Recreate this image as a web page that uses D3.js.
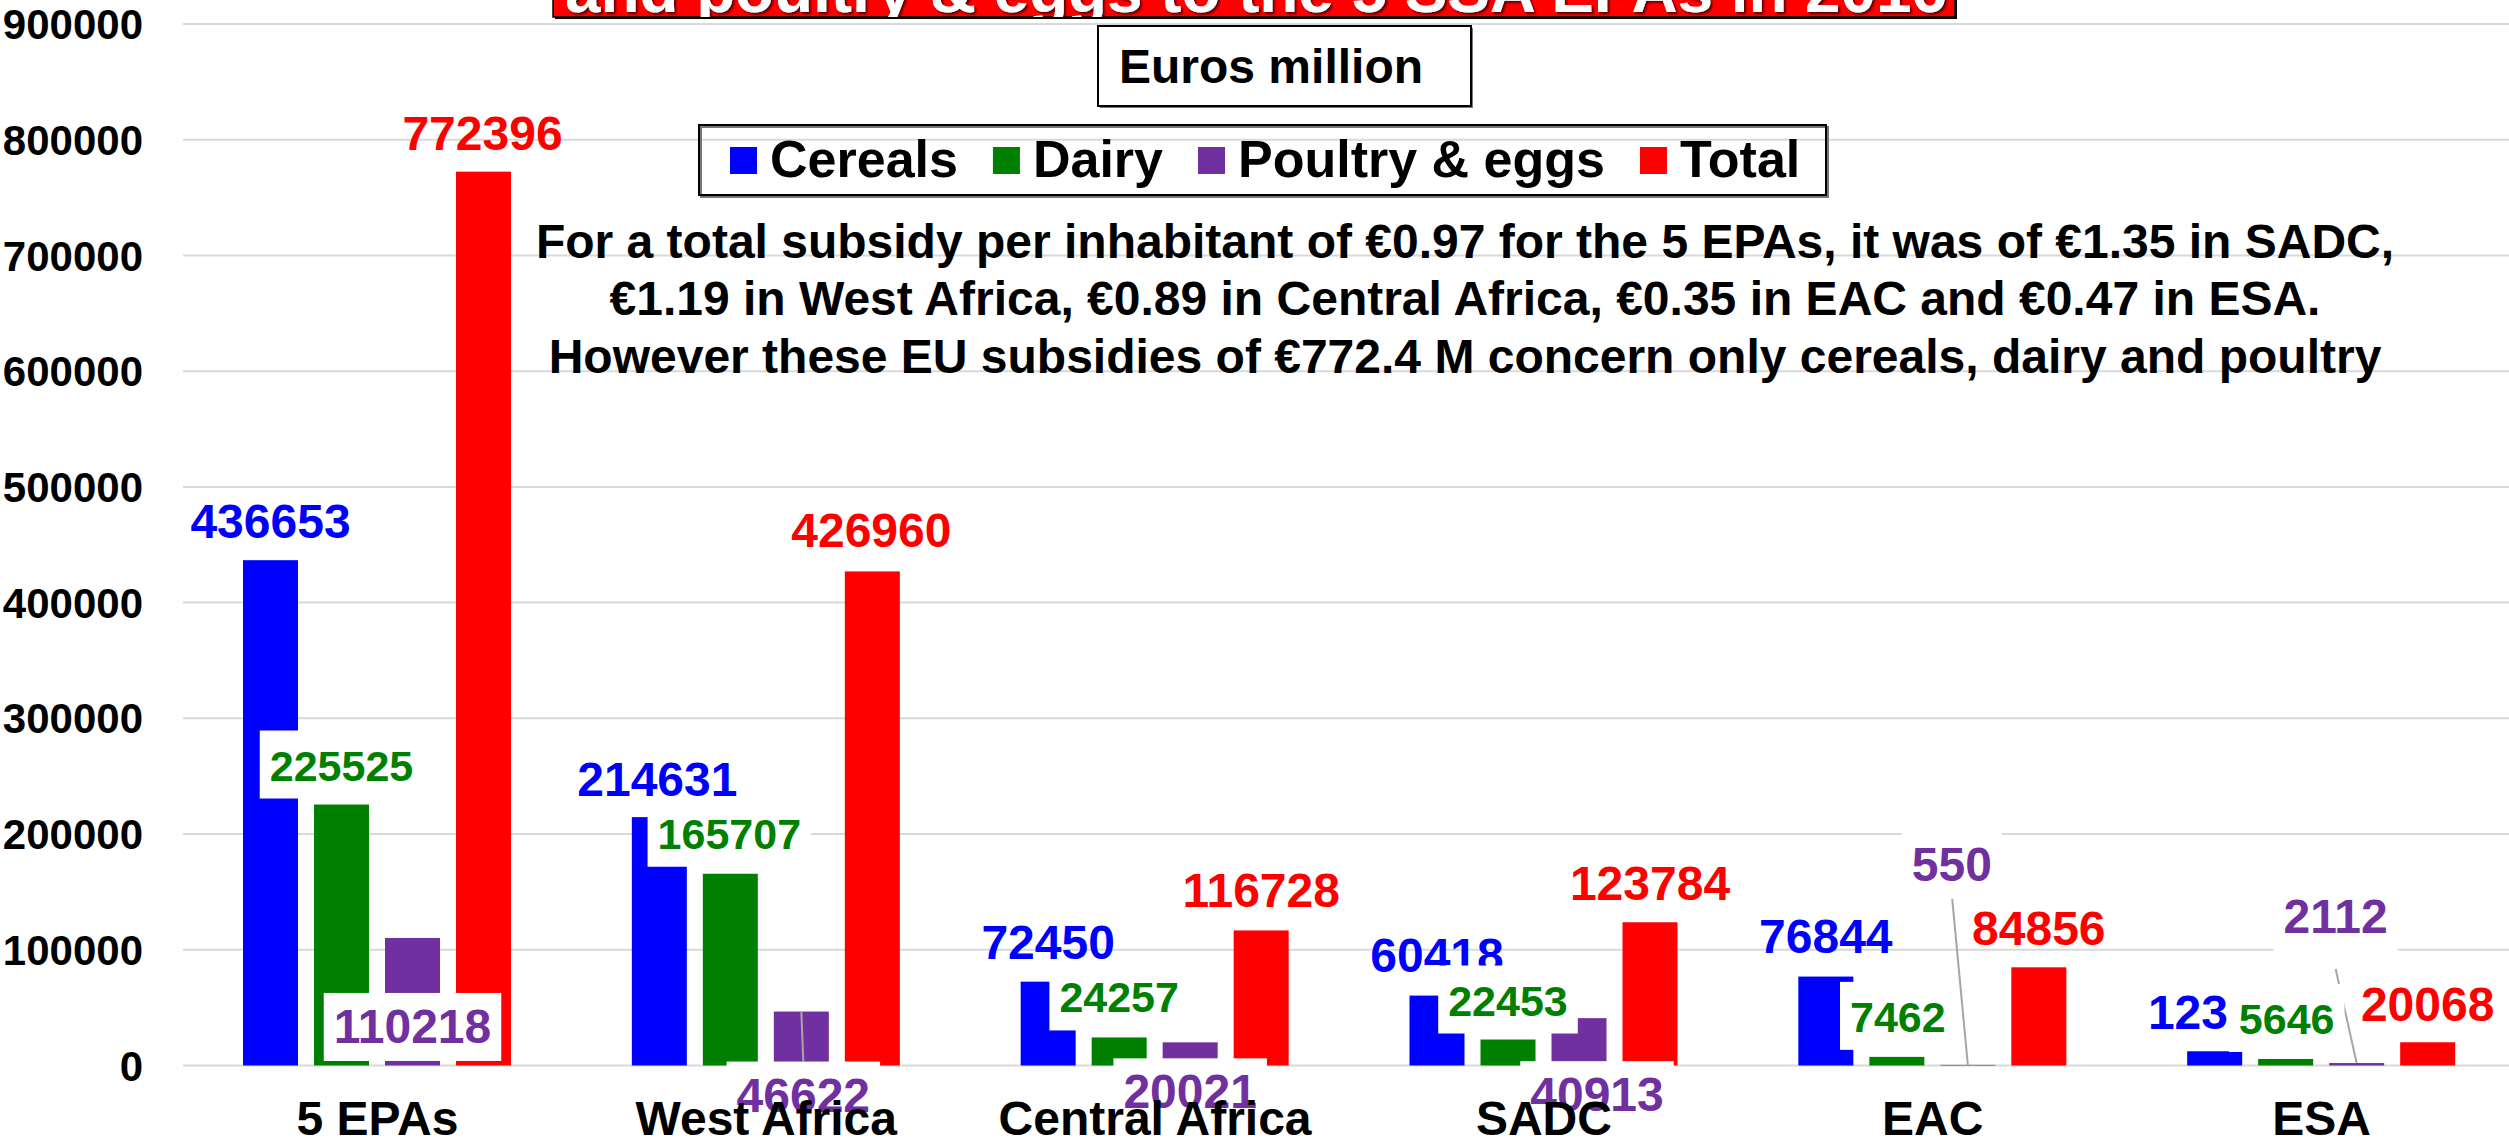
<!DOCTYPE html>
<html>
<head>
<meta charset="utf-8">
<script src="https://cdn.jsdelivr.net/npm/d3@7"></script>
<style>
  body { margin: 0; background: #fff; }
  svg { display: block; }
  text { font-family: "Liberation Sans", Arial, sans-serif; font-weight: bold; }
</style>
</head>
<body>
<svg id="chart"></svg>
<script>
// data (euros, thousands shown as "Euros million" in the source)
const categories = ["5 EPAs", "West Africa", "Central Africa", "SADC", "EAC", "ESA"];
const seriesNames = ["Cereals", "Dairy", "Poultry & eggs", "Total"];
const cereals = [436653, 214631, 72450, 60418, 76844, 12310];
const dairy   = [225525, 165707, 24257, 22453, 7462, 5646];
const poultry = [110218, 46622, 20021, 40913, 550, 2112];
const total   = [772396, 426960, 116728, 123784, 84856, 20068];
const yTicks  = [0, 100000, 200000, 300000, 400000, 500000, 600000, 700000, 800000, 900000];

const titleText = "and poultry & eggs to the 5 SSA EPAs in 2016";
const unitText = "Euros million";
const noteLines = [
    "For a total subsidy per inhabitant of €0.97 for the 5 EPAs, it was of €1.35 in SADC,",
    "€1.19 in West Africa, €0.89 in Central Africa, €0.35 in EAC and €0.47 in ESA.",
    "However these EU subsidies of €772.4 M concern only cereals, dairy and poultry"
];

const colors = ["#0000ff", "#008000", "#7030a0", "#ff0000"];
const seriesValues = [cereals, dairy, poultry, total];

// label placement, moved by hand in the original: [dx, dy] from the top centre of the bar to the label baseline
const labelShift = [
    [[0, -22], [-2, -21], [0, -23], [0, -24], [0, -24], [0, -22]],
    [[0, -24], [-1, -25], [0, -25], [0, -24], [1, -25], [1, -25]],
    [[0, 105], [2, 100], [0, 66], [18, 93], [-16, -184], [-21, -130]],
    [[-1, -22], [-1, -24], [0, -23], [0, -22], [0, -22], [0, -21]]
];
const labelSize = [48, 43, 48, 48];
const labelBoxed = [false, true, true, false];
// leader lines (poultry only): start offset below the label baseline
const leaderStart = [null, -50, null, null, 14, 36];

const width = 2509, height = 1145;

let svg = d3.select("#chart")
    .attr("width", width)
    .attr("height", height);

let x0 = d3.scaleBand().domain(categories).range([183, 2516]);
let x1 = d3.scaleBand().domain(seriesNames).range([60, 328]).paddingInner(16 / 71);
let y = d3.scaleLinear().domain([0, 900000]).range([1065.5, 24]);

// gridlines
svg.append("g")
    .selectAll("line")
    .data(yTicks)
    .enter()
    .append("line")
    .attr("x1", 183)
    .attr("x2", width)
    .attr("y1", d => y(d))
    .attr("y2", d => y(d))
    .attr("stroke", "#d9d9d9")
    .attr("stroke-width", 2);

// y tick labels
svg.append("g")
    .selectAll("text")
    .data(yTicks)
    .enter()
    .append("text")
    .attr("x", 143)
    .attr("y", d => y(d))
    .attr("dy", "0.36em")
    .attr("text-anchor", "end")
    .attr("font-size", 42)
    .text(d => d);

// bars
let bars = svg.append("g");
seriesNames.forEach((s, j) => {
    bars.append("g")
        .selectAll("rect")
        .data(seriesValues[j])
        .enter()
        .append("rect")
        .attr("x", (d, i) => x0(categories[i]) + x1(s))
        .attr("y", d => y(d))
        .attr("width", x1.bandwidth())
        .attr("height", d => y(0) - y(d))
        .attr("fill", colors[j]);
});

// leader lines
let leaders = svg.append("g");
poultry.forEach((v, i) => {
    if (leaderStart[i] === null) return;
    let bx = x0(categories[i]) + x1("Poultry & eggs") + x1.bandwidth() / 2;
    let by = y(v);
    let sh = labelShift[2][i];
    leaders.append("line")
        .attr("x1", bx + sh[0])
        .attr("y1", by + sh[1] + leaderStart[i])
        .attr("x2", bx)
        .attr("y2", by)
        .attr("stroke", "#a6a6a6")
        .attr("stroke-width", 2);
});

// data labels, in series order so later white boxes cover earlier labels
let labels = svg.append("g");
seriesNames.forEach((s, j) => {
    seriesValues[j].forEach((v, i) => {
        let bx = x0(categories[i]) + x1(s) + x1.bandwidth() / 2;
        let sh = labelShift[j][i];
        let cx = bx + sh[0], base = y(v) + sh[1];
        let g = labels.append("g");
        let t = g.append("text")
            .attr("x", cx)
            .attr("y", base)
            .attr("text-anchor", "middle")
            .attr("font-size", labelSize[j])
            .attr("fill", colors[j])
            .text(String(v));
        if (labelBoxed[j]) {
            let w = t.node().getComputedTextLength();
            g.insert("rect", "text")
                .attr("x", cx - w / 2 - 10)
                .attr("y", base - 50)
                .attr("width", w + 20)
                .attr("height", 68)
                .attr("fill", "#fff");
        }
    });
});

// category labels
svg.append("g")
    .selectAll("text")
    .data(categories)
    .enter()
    .append("text")
    .attr("x", d => x0(d) + x0.bandwidth() / 2)
    .attr("y", 1135)
    .attr("text-anchor", "middle")
    .attr("font-size", 48)
    .text(d => d);

// legend
let legend = svg.append("g");
legend.append("rect")
    .attr("x", 701).attr("y", 127).attr("width", 1127).attr("height", 70)
    .attr("fill", "none").attr("stroke", "#777").attr("stroke-width", 2);
legend.append("rect")
    .attr("x", 699).attr("y", 125).attr("width", 1127).attr("height", 70)
    .attr("fill", "none").attr("stroke", "#000").attr("stroke-width", 2);
let lx = 730;
seriesNames.forEach((s, j) => {
    legend.append("rect")
        .attr("x", lx).attr("y", 147).attr("width", 27).attr("height", 27)
        .attr("fill", colors[j]);
    let t = legend.append("text")
        .attr("x", lx + 40)
        .attr("y", 177)
        .attr("font-size", 52)
        .text(s);
    lx += 40 + t.node().getComputedTextLength() + 35;
});

// unit box
svg.append("rect")
    .attr("x", 1100).attr("y", 28).attr("width", 373).attr("height", 80)
    .attr("fill", "#777");
svg.append("rect")
    .attr("x", 1098).attr("y", 26).attr("width", 373).attr("height", 80)
    .attr("fill", "#fff").attr("stroke", "#000").attr("stroke-width", 2);
svg.append("text")
    .attr("x", 1119).attr("y", 83)
    .attr("font-size", 48)
    .text(unitText);

// note
svg.append("g")
    .selectAll("text")
    .data(noteLines)
    .enter()
    .append("text")
    .attr("x", 1465)
    .attr("y", (d, i) => [258, 315, 373][i])
    .attr("text-anchor", "middle")
    .attr("font-size", 48)
    .text(d => d);

// title box, mostly off the top of the picture
let defs = svg.append("defs");
defs.append("clipPath").attr("id", "titleClip")
    .append("rect").attr("x", 553).attr("y", -200).attr("width", 1402).attr("height", 217);
let shadow = defs.append("filter").attr("id", "shadow");
shadow.append("feDropShadow")
    .attr("dx", 2).attr("dy", 2).attr("stdDeviation", 1)
    .attr("flood-color", "#5a0000");
svg.append("rect")
    .attr("x", 555).attr("y", -200).attr("width", 1402).attr("height", 219)
    .attr("fill", "#000");
svg.append("rect")
    .attr("x", 553).attr("y", -200).attr("width", 1402).attr("height", 217)
    .attr("fill", "#ff0000").attr("stroke", "#000").attr("stroke-width", 1.5);
let title = svg.append("text")
    .attr("clip-path", "url(#titleClip)")
    .attr("filter", "url(#shadow)")
    .attr("x", 1256)
    .attr("y", 12)
    .attr("text-anchor", "middle")
    .attr("font-size", 54)
    .attr("fill", "#fff")
    .text(titleText);
let tw = title.node().getComputedTextLength();
title.attr("font-size", 54 * 1382 / tw);
</script>
</body>
</html>
